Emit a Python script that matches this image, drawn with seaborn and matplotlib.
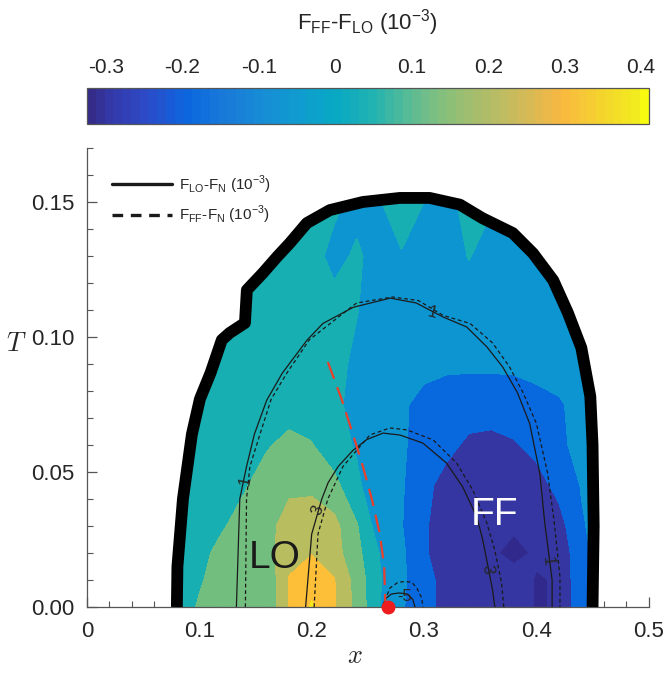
import numpy as np
import matplotlib
matplotlib.use("Agg")
import matplotlib.pyplot as plt
import seaborn as sns
from matplotlib.colors import LinearSegmentedColormap, Normalize
from matplotlib.cm import ScalarMappable
from matplotlib.patches import Polygon
from matplotlib.lines import Line2D
from matplotlib.ticker import MultipleLocator

# ---- F_FF - F_LO (10^-3) on a coarse (x, T) grid ----
x_grid = [0.06, 0.08, 0.10, 0.12, 0.14, 0.16, 0.18, 0.20, 0.22, 0.24, 0.26,
          0.28, 0.30, 0.32, 0.34, 0.36, 0.38, 0.40, 0.42, 0.44, 0.46, 0.48]
t_grid = [0.0, 0.01, 0.02, 0.03, 0.045, 0.06, 0.075, 0.09, 0.11, 0.13, 0.15, 0.17]
dF = [
    [0.05, 0.05, 0.11, 0.15, 0.15, 0.12, 0.31, 0.41, 0.31, 0.17, 0.005, -0.09, -0.16, -0.24, -0.25, -0.26, -0.26, -0.305, -0.295, -0.12, -0.05, -0.05],
    [0.05, 0.05, 0.09, 0.14, 0.15, 0.12, 0.31, 0.37, 0.305, 0.16, 0.01, -0.08, -0.17, -0.23, -0.25, -0.26, -0.27, -0.305, -0.295, -0.12, -0.05, -0.05],
    [0.05, 0.05, 0.07, 0.13, 0.15, 0.17, 0.25, 0.295, 0.24, 0.13, 0.0, -0.08, -0.19, -0.24, -0.26, -0.29, -0.32, -0.29, -0.27, -0.13, -0.05, -0.05],
    [0.05, 0.05, 0.05, 0.09, 0.14, 0.17, 0.24, 0.28, 0.23, 0.11, -0.05, -0.095, -0.19, -0.24, -0.26, -0.28, -0.29, -0.28, -0.24, -0.11, -0.06, -0.05],
    [0.05, 0.05, 0.05, 0.05, 0.09, 0.15, 0.18, 0.17, 0.13, 0.02, -0.07, -0.09, -0.17, -0.24, -0.26, -0.27, -0.27, -0.24, -0.17, -0.095, -0.05, -0.05],
    [0.05, 0.05, 0.05, 0.05, 0.05, 0.09, 0.13, 0.105, 0.04, -0.01, -0.06, -0.09, -0.13, -0.17, -0.22, -0.23, -0.21, -0.17, -0.12, -0.07, -0.05, -0.05],
    [0.05, 0.05, 0.05, 0.05, 0.05, 0.05, 0.05, 0.05, 0.02, -0.03, -0.06, -0.09, -0.12, -0.14, -0.15, -0.15, -0.14, -0.13, -0.11, -0.07, -0.05, -0.05],
    [0.05, 0.05, 0.05, 0.05, 0.05, 0.05, 0.05, 0.05, 0.03, -0.02, -0.05, -0.06, -0.08, -0.085, -0.085, -0.085, -0.085, -0.07, -0.06, -0.05, -0.05, -0.05],
    [0.05, 0.05, 0.05, 0.05, 0.05, 0.05, 0.05, 0.05, 0.05, 0.005, -0.05, -0.05, -0.05, -0.05, -0.05, -0.05, -0.05, -0.05, -0.05, -0.05, -0.05, -0.05],
    [0.05, 0.05, 0.05, 0.05, 0.05, 0.05, 0.05, 0.05, -0.04, 0.02, -0.05, -0.01, -0.04, -0.05, 0.005, -0.04, -0.05, -0.05, -0.05, -0.05, -0.05, -0.05],
    [0.05, 0.05, 0.05, 0.05, 0.05, 0.05, 0.05, 0.05, 0.03, -0.04, -0.01, 0.08, 0.0, -0.05, 0.06, 0.01, -0.05, -0.05, -0.05, -0.05, -0.05, -0.05],
    [0.05, 0.05, 0.05, 0.05, 0.05, 0.05, 0.05, 0.05, 0.03, -0.05, -0.01, 0.07, 0.0, -0.05, 0.05, 0.0, -0.05, -0.05, -0.05, -0.05, -0.05, -0.05],
]

# phase boundary (thick black curve)
bound_x = [0.080, 0.0805, 0.0854, 0.0934, 0.1005, 0.110, 0.120, 0.127, 0.1406, 0.1423,
           0.1566, 0.169, 0.1806, 0.1957, 0.2162, 0.2456, 0.2785, 0.305, 0.332, 0.352,
           0.379, 0.397, 0.415, 0.428, 0.440, 0.448, 0.450, 0.451, 0.450]
bound_t = [0.0, 0.015, 0.040, 0.064, 0.077, 0.0867, 0.0989, 0.1015, 0.1052, 0.1174,
           0.1237, 0.1296, 0.1348, 0.1422, 0.147, 0.150, 0.1515, 0.1515, 0.149, 0.144,
           0.1385, 0.131, 0.121, 0.109, 0.096, 0.078, 0.060, 0.030, 0.0]

# F_LO - F_N contours (solid)
lo1_x = [0.133, 0.136, 0.142, 0.149, 0.160, 0.174, 0.196, 0.210, 0.237, 0.270, 0.293,
         0.317, 0.338, 0.356, 0.370, 0.383, 0.394, 0.403, 0.4075, 0.414, 0.414]
lo1_t = [0.0, 0.040, 0.052, 0.064, 0.0766, 0.0867, 0.0989, 0.105, 0.111, 0.1144, 0.1126,
         0.1074, 0.1037, 0.0963, 0.0889, 0.0795, 0.068, 0.0496, 0.031, 0.010, 0.0]
lo3_x = [0.1946, 0.200, 0.209, 0.2146, 0.2235, 0.2367, 0.249, 0.2635, 0.2785, 0.299,
         0.320, 0.3345, 0.347, 0.3523, 0.361, 0.363]
lo3_t = [0.0, 0.027, 0.040, 0.046, 0.052, 0.058, 0.062, 0.0644, 0.0637, 0.0607,
         0.0533, 0.0444, 0.0333, 0.0248, 0.0063, 0.0]
lo5_x = [0.263, 0.2655, 0.271, 0.278, 0.285, 0.290, 0.292]
lo5_t = [0.0, 0.003, 0.0048, 0.0052, 0.0048, 0.0028, 0.0]

# F_FF - F_N contours (dashed)
ff1_x = [0.141, 0.142, 0.145, 0.154, 0.164, 0.178, 0.198, 0.240, 0.272, 0.295, 0.317,
         0.341, 0.361, 0.376, 0.388, 0.400, 0.410, 0.416, 0.421, 0.421]
ff1_t = [0.0, 0.040, 0.052, 0.064, 0.077, 0.0867, 0.099, 0.1126, 0.1148, 0.1135, 0.108,
         0.105, 0.0978, 0.089, 0.0795, 0.068, 0.0496, 0.031, 0.011, 0.0]
ff3_x = [0.2022, 0.2056, 0.2144, 0.2278, 0.240, 0.2518, 0.2696, 0.2847, 0.308, 0.329,
         0.3434, 0.356, 0.363, 0.369, 0.371]
ff3_t = [0.0, 0.027, 0.040, 0.052, 0.058, 0.0637, 0.0663, 0.0656, 0.0619, 0.0533,
         0.0433, 0.031, 0.021, 0.0089, 0.0]
ff5_x = [0.263, 0.2696, 0.277, 0.283, 0.289, 0.2936, 0.298, 0.299]
ff5_t = [0.0, 0.007, 0.0092, 0.0094, 0.0092, 0.007, 0.0033, 0.0]

# red dashed line and end point
red_x = [0.2144, 0.2266, 0.2367, 0.2456, 0.2535, 0.2607, 0.2645, 0.2655]
red_t = [0.0907, 0.077, 0.064, 0.052, 0.040, 0.027, 0.015, 0.002]
dot_x = [0.268]
dot_t = [0.0]

# contour labels: (text, x, T, rotation)
clabels = [("1", 0.1405, 0.047, 78), ("1", 0.307, 0.109, -15), ("1", 0.410, 0.017, -85),
           ("3", 0.2055, 0.036, 70), ("3", 0.3565, 0.014, -85), ("-5", 0.2825, 0.0037, 0)]

fill_levels = [-0.4, -0.3, -0.2, -0.1, 0.0, 0.1, 0.2, 0.3, 0.4, 0.5]
fill_colors = ['#31298b', '#3536a1', '#0868de', '#0d95d2', '#17afb1',
               '#72be7e', '#b8bd60', '#fdbe38', '#f5e81d']

cbar_vals = [-0.325, -0.3, -0.25, -0.2, -0.15, -0.1, -0.05, 0.0, 0.05, 0.1, 0.15,
             0.2, 0.25, 0.3, 0.35, 0.4, 0.41]
cbar_cols = ['#342c88', '#3438a8', '#2d4bc8', '#0b66df', '#1979d9', '#188cd6', '#0f9ccf',
             '#08a8c4', '#22b3b1', '#5cbc94', '#8cbf78', '#b0bd68', '#d2ba58', '#f8b840',
             '#f4d22e', '#f2ec1e', '#f8fa10']
cbar_ticks = [-0.3, -0.2, -0.1, 0, 0.1, 0.2, 0.3, 0.4]

sns.set_theme(style="ticks")
plt.rcParams['font.family'] = ['Liberation Sans', 'DejaVu Sans']
plt.rcParams['axes.unicode_minus'] = False

fig = plt.figure(figsize=(6.64, 6.81), dpi=100)
ax = fig.add_axes([0.131, 0.1087, 0.846, 0.674])
cax = fig.add_axes([0.131, 0.818, 0.846, 0.053])

# filled map, clipped to the phase boundary
X, Y = np.meshgrid(x_grid, t_grid)
cs = ax.contourf(X, Y, np.array(dF), levels=fill_levels, colors=fill_colors, zorder=1)
clip = Polygon(np.column_stack([bound_x, bound_t]), closed=True, transform=ax.transData)
cs.set_clip_path(clip)

# contour lines
for cx, ct in [(lo1_x, lo1_t), (lo3_x, lo3_t), (lo5_x, lo5_t)]:
    sns.lineplot(x=cx, y=ct, sort=False, estimator=None, color='k', lw=0.9, ax=ax, zorder=3)
for cx, ct in [(ff1_x, ff1_t), (ff3_x, ff3_t), (ff5_x, ff5_t)]:
    sns.lineplot(x=cx, y=ct, sort=False, estimator=None, color='k', lw=0.9,
                 linestyle=(0, (3, 2.2)), ax=ax, zorder=3)
for txt, lx, lt, rot in clabels:
    ax.text(lx, lt, txt, fontsize=12, rotation=rot, ha='center', va='center', zorder=4)

# boundary
ax.plot(bound_x, bound_t, color='black', lw=8.5, solid_capstyle='butt',
        solid_joinstyle='round', zorder=5)

# red line + point
sns.lineplot(x=red_x, y=red_t, sort=False, estimator=None, color='#e8402a', lw=1.6,
             linestyle=(0, (8, 4)), ax=ax, zorder=4)
ax.plot(dot_x, dot_t, 'o', ms=9, color='#ee1c1c', clip_on=False, zorder=6)

ax.text(0.1673, 0.0181, "LO", fontsize=28, ha='center', va='center', color='k', zorder=4)
ax.text(0.363, 0.034, "FF", fontsize=28, ha='center', va='center', color='white', zorder=4)

# axes
ax.set_xlim(0, 0.5)
ax.set_ylim(0, 0.17)
ax.set_xticks([0, 0.1, 0.2, 0.3, 0.4, 0.5])
ax.set_xticklabels(['0', '0.1', '0.2', '0.3', '0.4', '0.5'])
ax.set_yticks([0, 0.05, 0.10, 0.15])
ax.set_yticklabels(['0.00', '0.05', '0.10', '0.15'])
ax.xaxis.set_minor_locator(MultipleLocator(0.02))
ax.yaxis.set_minor_locator(MultipleLocator(0.01))
ax.tick_params(which='both', direction='in', color='#555555', labelcolor='#262626', labelsize=16)
ax.tick_params(which='major', length=7, width=0.9)
ax.tick_params(which='minor', length=4, width=0.8)
ax.tick_params(axis='x', pad=10)
ax.tick_params(axis='y', pad=9)
sns.despine(ax=ax)
for s in ['left', 'bottom']:
    ax.spines[s].set_color('#555555')
    ax.spines[s].set_linewidth(0.9)

ax.set_xlabel(r'$x$', fontsize=19, math_fontfamily='cm')
ax.xaxis.set_label_coords(0.477, -0.08)
ax.set_ylabel(r'$T$', fontsize=19, math_fontfamily='cm', rotation=0, ha='center', va='center')
ax.yaxis.set_label_coords(-0.125, 0.572)

leg_handles = [Line2D([0], [0], color='k', lw=2.4),
               Line2D([0], [0], color='k', lw=2.4, dashes=(3.2, 2.3))]
leg_labels = [r'F$_\mathregular{LO}$-F$_\mathregular{N}$ (10$^\mathregular{-3}$)',
              r'F$_\mathregular{FF}$-F$_\mathregular{N}$ (10$^\mathregular{-3}$)']
ax.legend(leg_handles, leg_labels, loc='upper left', bbox_to_anchor=(0.02, 0.975),
          frameon=False, fontsize=11, handlelength=3.9, handletextpad=0.5, labelspacing=0.55)

# colorbar
norm = Normalize(vmin=cbar_vals[0], vmax=cbar_vals[-1])
cmap = LinearSegmentedColormap.from_list(
    'parula_like', [((v - cbar_vals[0]) / (cbar_vals[-1] - cbar_vals[0]), c)
                    for v, c in zip(cbar_vals, cbar_cols)], N=64)
sm = ScalarMappable(norm=norm, cmap=cmap)
cb = fig.colorbar(sm, cax=cax, orientation='horizontal', ticks=cbar_ticks)
cax.xaxis.set_ticks_position('top')
cax.xaxis.set_label_position('top')
cax.set_xticklabels(['-0.3', '-0.2', '-0.1', '0', '0.1', '0.2', '0.3', '0.4'])
cax.tick_params(direction='in', length=5, width=0.9, color='#555555', labelcolor='#262626',
                labelsize=15, pad=8)
cb.outline.set_edgecolor('#555555')
cb.outline.set_linewidth(0.9)
cb.set_label(r'F$_\mathregular{FF}$-F$_\mathregular{LO}$ (10$^\mathregular{-3}$)',
             fontsize=16, labelpad=20)

fig.savefig('out.png', dpi=100)
